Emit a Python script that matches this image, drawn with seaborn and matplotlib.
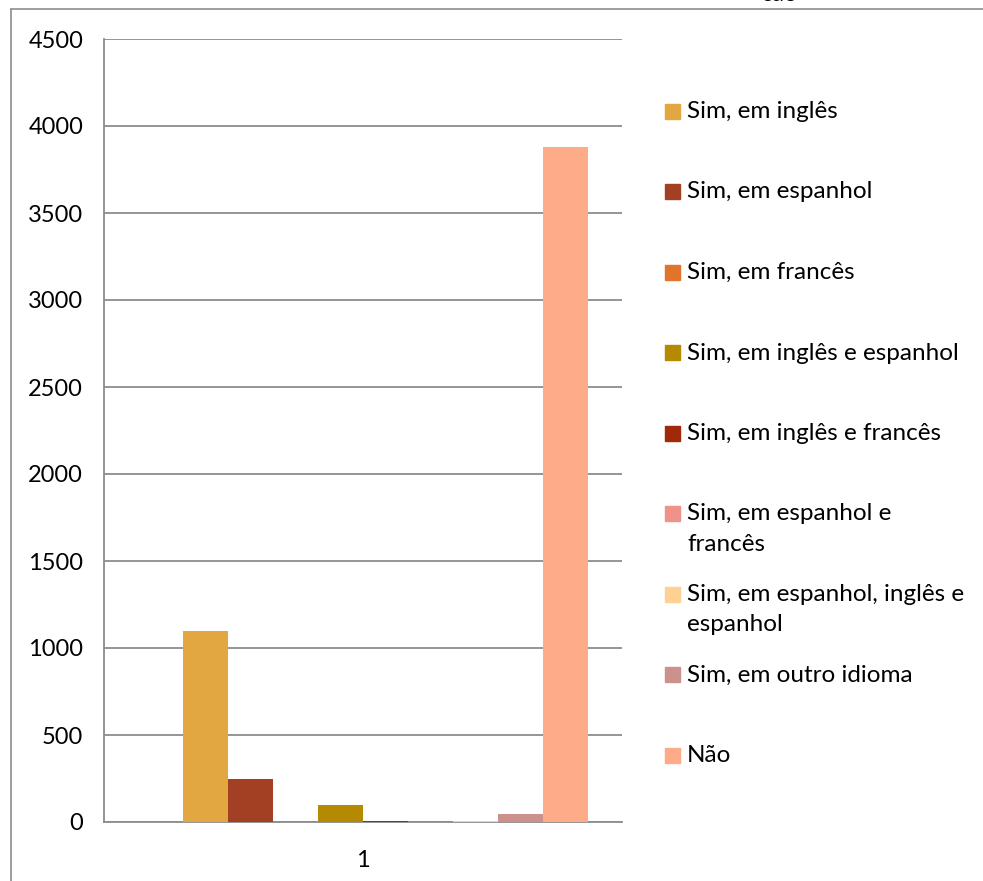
"""
Grouped bar chart (Excel style): language answers, single category "1".
Writes: out.png
"""
import matplotlib.lines as mlines
import matplotlib.patches as mpatches
import matplotlib.pyplot as plt
import pandas as pd
import seaborn as sns

# first series is an empty column of the sheet (no label, value 0):
# Excel still reserves its slot in the group
SERIES = [
    " ",
    "Sim, em inglês",
    "Sim, em espanhol",
    "Sim, em francês",
    "Sim, em inglês e espanhol",
    "Sim, em inglês e francês",
    "Sim, em espanhol e\nfrancês",
    "Sim, em espanhol, inglês e\nespanhol",
    "Sim, em outro idioma",
    "Não",
]
VALUES = [0, 1100, 247, 5, 98, 6, 1, 3, 46, 3880]
COLORS = ["#FFFFFF", "#E2A740", "#A33F22", "#E07428", "#B58A00", "#A0290A",
          "#EE928A", "#FDD093", "#CC918A", "#FDAB88"]
CATEGORY = ["1"] * len(SERIES)
Y_TICKS = list(range(0, 4501, 500))

GRID = "#8C8C8C"
FONT = "Lato"
FS = 17
FS_LEG = 17.5

W, H = 983, 881


def main():
    df = pd.DataFrame({"cat": CATEGORY, "serie": SERIES, "valor": VALUES})

    sns.set_style("white")
    plt.rcParams["font.family"] = [FONT, "DejaVu Sans"]
    plt.rcParams["text.color"] = "black"
    plt.rcParams["xtick.color"] = "black"
    plt.rcParams["ytick.color"] = "black"

    fig = plt.figure(figsize=(W / 100, H / 100), dpi=100)
    ax = fig.add_axes([104 / W, 1 - 822 / H, (622 - 104) / W, (822 - 39) / H])

    sns.barplot(data=df, x="cat", y="valor", hue="serie", hue_order=SERIES,
                palette=COLORS, width=0.869, saturation=1, ax=ax,
                legend=False, linewidth=0, edgecolor="none", zorder=3)

    ax.set_ylim(0, 4500)
    ax.set_xlim(-0.5, 0.5)
    ax.set_yticks(Y_TICKS)
    ax.set_yticklabels([str(v) for v in Y_TICKS], fontsize=FS)
    ax.set_xticks([0])
    ax.set_xticklabels(["1"], fontsize=FS)
    ax.set_xticks([-0.5, 0.5], minor=True)
    ax.tick_params(axis="x", which="major", length=0, pad=20)
    ax.tick_params(axis="x", which="minor", length=6, width=1.3, color=GRID)
    ax.tick_params(axis="y", length=6, width=1.3, color=GRID, pad=9)
    ax.set_xlabel("")
    ax.set_ylabel("")

    ax.yaxis.grid(True, color=GRID, linewidth=1.3, zorder=0)
    ax.set_axisbelow(True)
    for side in ("top", "right"):
        ax.spines[side].set_visible(False)
    for side in ("left", "bottom"):
        ax.spines[side].set_color(GRID)
        ax.spines[side].set_linewidth(1.3)

    # legend, Excel style: entries evenly spaced, swatch on first line
    for i, (label, color) in enumerate(zip(SERIES[1:], COLORS[1:])):
        yc = 111 + i * 80.5
        fig.add_artist(mpatches.Rectangle(
            (665 / W, 1 - (yc + 7.5) / H), 15 / W, 15 / H,
            transform=fig.transFigure, color=color))
        fig.text(687 / W, 1 - (yc - 10) / H, label, fontsize=FS_LEG,
                 ha="left", va="top", linespacing=1.55)

    # outer chart border (left and top only visible)
    fig.add_artist(mlines.Line2D([11 / W, 11 / W], [0, 1 - 9 / H],
                                 transform=fig.transFigure, color=GRID, lw=1.2))
    fig.add_artist(mlines.Line2D([11 / W, 1], [1 - 9 / H, 1 - 9 / H],
                                 transform=fig.transFigure, color=GRID, lw=1.2))
    # cut-off title
    fig.text(780 / W, 1 - 1 / H, "são", fontsize=FS, ha="center",
             va="baseline")

    fig.savefig("out.png", dpi=100)
    plt.close(fig)


if __name__ == "__main__":
    main()
